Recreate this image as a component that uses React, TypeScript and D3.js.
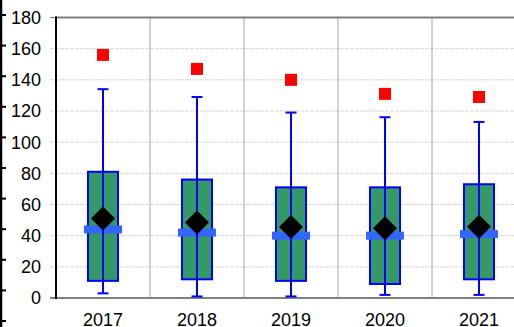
import React from "react";
import * as d3 from "d3";

const categories = ["2017", "2018", "2019", "2020", "2021"];
const whiskerLow = [3, 1, 1, 2, 2];
const q1 = [11, 12, 11, 9, 12];
const median = [44, 42, 40, 40, 41];
const q3 = [81, 76, 71, 71, 73];
const whiskerHigh = [134, 129, 119, 116, 113];
const means = [51, 48.5, 45.5, 44.8, 45.8];
const outliers = [156, 147, 140, 131, 129];
const yTicks = [0, 20, 40, 60, 80, 100, 120, 140, 160, 180];

const W = 514;
const H = 327;
const left = 56;
const right = 526;
const top = 17.5;
const bottom = 298;

export default function App() {
  const x = d3.scaleBand<string>().domain(categories).range([left, right]).padding(0);
  const y = d3.scaleLinear().domain([0, 180]).range([bottom, top]);
  const bw = x.bandwidth();
  const boxW = 30;
  const medW = 38;
  const capW = 11;
  const dia = 12;
  const sq = 12;
  const font = "Liberation Sans, Arial, sans-serif";

  const sideTicks = d3.range(15, H + 10, 30.6);

  return (
    <svg width={W} height={H} style={{ position: "absolute", left: 0, top: 0 }} fontFamily={font}>
      <rect x={0} y={0} width={W} height={H} fill="#fff" />
      {/* side artifact axis */}
      <line x1={1} x2={1} y1={0} y2={H} stroke="#000" strokeWidth={2.5} />
      {sideTicks.map((t, i) => (
        <line key={"st" + i} x1={0} x2={6} y1={t} y2={t} stroke="#000" strokeWidth={2} />
      ))}
      {/* grid */}
      {yTicks.filter((t) => t > 0 && t < 180).map((t) => (
        <line key={"g" + t} x1={left - 6} x2={right} y1={y(t)} y2={y(t)} stroke="#d6d6d6" strokeWidth={1} strokeDasharray="4,1" />
      ))}
      {categories.slice(1).map((c) => (
        <line key={"v" + c} x1={x(c)!} x2={x(c)!} y1={top} y2={bottom} stroke="#a6a6a6" strokeWidth={1} />
      ))}
      <line x1={right} x2={right} y1={top} y2={bottom} stroke="#a6a6a6" strokeWidth={1} />
      <line x1={left} x2={right} y1={top} y2={top} stroke="#808080" strokeWidth={2} />
      <line x1={left - 6} x2={left} y1={top} y2={top} stroke="#808080" strokeWidth={1} />
      <line x1={left - 6} x2={right} y1={bottom} y2={bottom} stroke="#808080" strokeWidth={2} />
      <line x1={left} x2={left} y1={top - 1} y2={bottom + 1} stroke="#000" strokeWidth={2} />
      {/* y labels */}
      {yTicks.map((t) => (
        <text key={"yl" + t} x={41} y={y(t)} dy="0.36em" textAnchor="end" fontSize={18} fill="#000">
          {t}
        </text>
      ))}
      {/* x labels */}
      {categories.map((c) => (
        <text key={"xl" + c} x={x(c)! + bw / 2} y={326} textAnchor="middle" fontSize={18} fill="#000">
          {c}
        </text>
      ))}
      {/* boxes */}
      {categories.map((c, i) => {
        const cx = x(c)! + bw / 2;
        return (
          <g key={"b" + c}>
            <rect x={cx - boxW / 2} y={y(q3[i])} width={boxW} height={y(q1[i]) - y(q3[i])} fill="#339966" stroke="#0000ff" strokeWidth={2} />
            <rect x={cx - medW / 2} y={y(median[i]) - 4} width={medW} height={8} fill="#3366ff" />
            <line x1={cx} x2={cx} y1={y(whiskerHigh[i])} y2={y(whiskerLow[i])} stroke="#0000ff" strokeWidth={2} />
            <line x1={cx - capW / 2} x2={cx + capW / 2} y1={y(whiskerHigh[i])} y2={y(whiskerHigh[i])} stroke="#0000ff" strokeWidth={2} />
            <line x1={cx - capW / 2} x2={cx + capW / 2} y1={y(whiskerLow[i])} y2={y(whiskerLow[i])} stroke="#0000ff" strokeWidth={2} />
            <path d={`M${cx},${y(means[i]) - dia} L${cx + dia},${y(means[i])} L${cx},${y(means[i]) + dia} L${cx - dia},${y(means[i])} Z`} fill="#000" />
            <rect x={cx - sq / 2} y={y(outliers[i]) - sq / 2} width={sq} height={sq} fill="#ff0000" />
          </g>
        );
      })}
    </svg>
  );
}
